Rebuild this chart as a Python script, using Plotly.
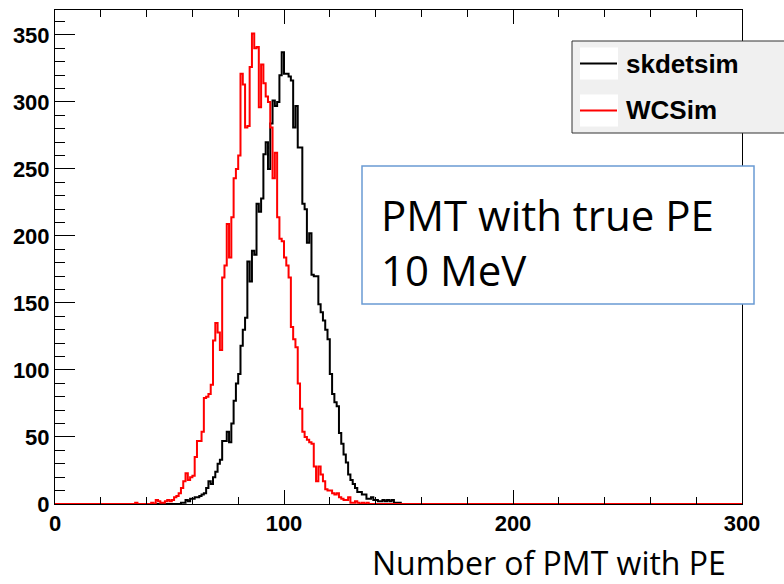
import numpy as np
import plotly.graph_objects as go

# ---------------- data ----------------
n_bins = 300
x_min, x_max = 0, 300

sk_start = 55
skdetsim_counts = [1, 1, 3, 2, 4, 4, 5, 5, 6, 7,            # 55-64
                   8, 12, 17, 15, 20, 24, 30, 33, 47, 47,   # 65-74
                   54, 46, 60, 77, 90, 97, 118, 130, 139, 181,  # 75-84
                   166, 189, 186, 224, 218, 228, 261, 270, 250, 284,  # 85-94
                   301, 297, 300, 320, 337, 321, 321, 319, 316, 281,  # 95-104
                   297, 266, 266, 224, 220, 195, 202, 171, 170, 170,  # 105-114
                   149, 143, 137, 130, 123, 97, 82, 76, 73, 53,       # 115-124
                   45, 37, 31, 22, 18, 15, 12, 9, 9, 7,               # 125-134
                   7, 4, 4, 5, 3, 3, 2, 2, 3, 2,                      # 135-144
                   3, 2, 3, 1, 1, 1]                                  # 145-150

wc_start = 35
wcsim_counts = [1, 0, 0, 0, 0, 0, 0, 1, 0, 3,              # 35-44
                2, 1, 1, 2, 3, 2, 3, 5, 6, 8,              # 45-54
                12, 17, 23, 18, 20, 21, 35, 47, 47, 54,    # 55-64
                79, 80, 82, 89, 122, 135, 128, 115, 169, 178,  # 65-74
                209, 184, 214, 243, 250, 260, 321, 313, 281, 282,  # 75-84
                326, 351, 340, 341, 296, 328, 314, 304, 300, 281,  # 85-94
                243, 262, 214, 198, 196, 184, 178, 169, 132, 123,  # 95-104
                117, 90, 71, 54, 50, 48, 46, 45, 28, 17,           # 105-114
                28, 22, 17, 11, 10, 10, 8, 7, 8, 5,                # 115-124
                4, 3, 3, 5, 1, 1, 2, 1, 0, 1,                      # 125-134
                0, 1]                                              # 135-136

series_names = ["skdetsim", "WCSim"]
series_colors = ["#000000", "#ff0000"]

x_tickvals = [0, 100, 200, 300]
y_tickvals = [0, 50, 100, 150, 200, 250, 300, 350]
y_max = 368.6

x_title = "Number of PMT with PE"
box_text = "PMT with true PE<br>10 MeV"


def full_hist(start, counts):
    h = np.zeros(n_bins)
    h[start:start + len(counts)] = counts
    return h


edges = np.arange(x_min, x_max + 1)
hists = [full_hist(sk_start, skdetsim_counts), full_hist(wc_start, wcsim_counts)]

fig = go.Figure()
for name, col, h in zip(series_names, series_colors, hists):
    fig.add_trace(go.Scatter(
        x=edges, y=np.append(h, h[-1]), mode="lines", name=name,
        line=dict(color=col, width=2, shape="hv"), showlegend=False,
        cliponaxis=False))

# ---------------- layout ----------------
L, R, T, B = 55, 742, 10, 504
W, H = 784, 584
PW, PH = R - L, B - T


def px(xp):
    return (xp - L) / PW


def py(yp):
    return (B - yp) / PH


tickfont = dict(family="Liberation Sans, Arial, sans-serif", size=22, color="black", weight="bold")

fig.update_layout(
    width=W, height=H,
    margin=dict(l=L, r=W - R, t=T, b=H - B, pad=0),
    paper_bgcolor="white", plot_bgcolor="white",
    showlegend=False,
    xaxis=dict(range=[x_min, x_max], tickvals=x_tickvals, ticks="inside", ticklen=14,
               tickwidth=1, tickcolor="black", showgrid=False, zeroline=False,
               showline=True, linecolor="black", linewidth=1, mirror="ticks",
               tickfont=tickfont,
               minor=dict(dtick=20, ticks="inside", ticklen=7, tickwidth=1,
                          tickcolor="black", showgrid=False)),
    yaxis=dict(range=[0, y_max], tickvals=y_tickvals, ticks="inside", ticklen=20,
               tickwidth=1, tickcolor="black", showgrid=False, zeroline=False,
               showline=True, linecolor="black", linewidth=1, mirror=True,
               tickfont=tickfont, ticklabelstandoff=0,
               minor=dict(dtick=10, ticks="inside", ticklen=10, tickwidth=1,
                          tickcolor="black", showgrid=False)),
)

shapes = []
annotations = []

# legend box
lg_x0, lg_x1, lg_y0, lg_y1 = 572, 800, 41, 133
shapes.append(dict(type="rect", xref="paper", yref="paper",
                   x0=px(lg_x0), x1=px(lg_x1), y0=py(lg_y1), y1=py(lg_y0),
                   fillcolor="#f0f0f0", line=dict(color="#333333", width=1), layer="above"))
entry_y = [63.5, 110.5]
for name, col, ey in zip(series_names, series_colors, entry_y):
    shapes.append(dict(type="rect", xref="paper", yref="paper",
                       x0=px(580), x1=px(618), y0=py(ey + 16), y1=py(ey - 16),
                       fillcolor="white", line=dict(width=0), layer="above"))
    shapes.append(dict(type="line", xref="paper", yref="paper",
                       x0=px(580), x1=px(617), y0=py(ey), y1=py(ey),
                       line=dict(color=col, width=2), layer="above"))
    annotations.append(dict(text=name, xref="paper", yref="paper", x=px(624), y=py(ey),
                            xanchor="left", yanchor="middle", showarrow=False,
                            font=dict(family="Liberation Sans, Arial, sans-serif", size=26,
                                      color="black", weight="bold")))

# text box
shapes.append(dict(type="rect", xref="paper", yref="paper",
                   x0=px(362), x1=px(754), y0=py(304), y1=py(166),
                   fillcolor="white", line=dict(color="#6a9bd3", width=1.5), layer="above"))
annotations.append(dict(text=box_text, xref="paper", yref="paper", x=px(379), y=py(242),
                        xanchor="left", yanchor="middle", showarrow=False, align="left",
                        font=dict(family="Open Sans, sans-serif", size=42, color="black")))

# x axis title
annotations.append(dict(text=x_title, xref="paper", yref="paper", x=px(549), y=py(562.5),
                        xanchor="center", yanchor="middle", showarrow=False,
                        font=dict(family="Open Sans, sans-serif", size=32, color="black")))

fig.update_layout(shapes=shapes, annotations=annotations)
fig.write_html("out.html")
